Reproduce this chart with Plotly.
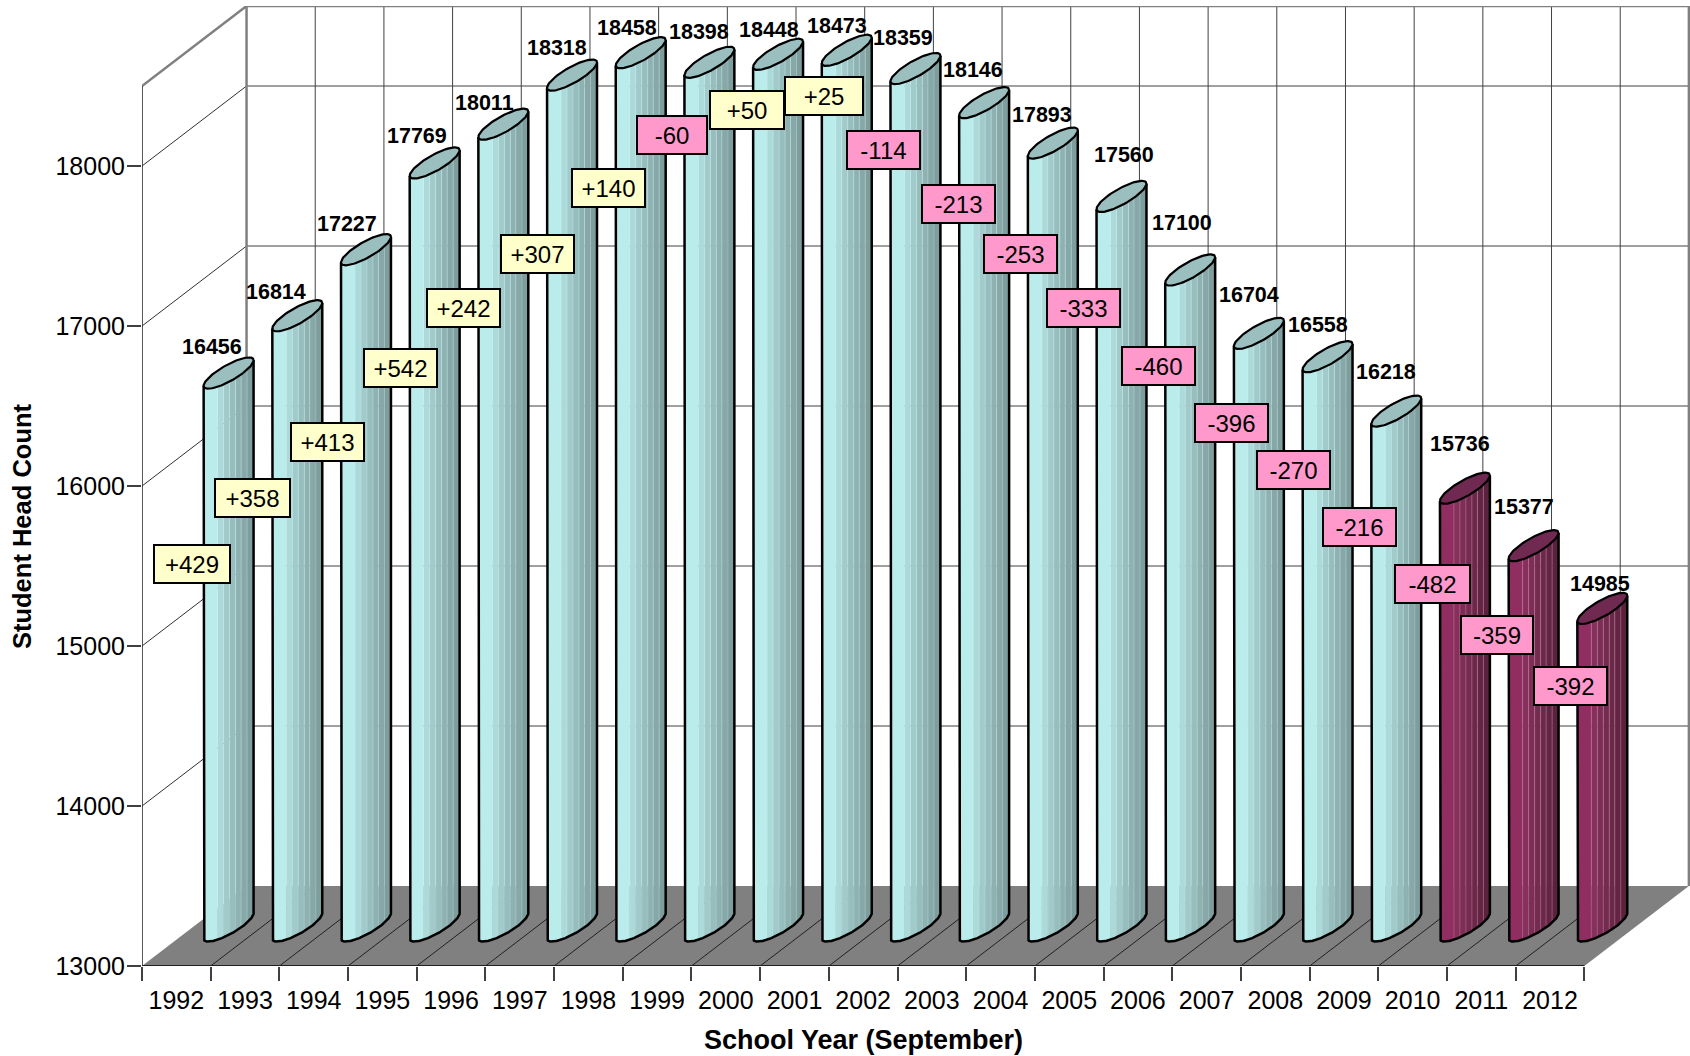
import numpy as np
import plotly.graph_objects as go

# ---- data -------------------------------------------------------------
years = [str(y) for y in range(1992, 2013)]
head_count = [16456, 16814, 17227, 17769, 18011, 18318, 18458, 18398, 18448, 18473, 18359,
              18146, 17893, 17560, 17100, 16704, 16558, 16218, 15736, 15377, 14985]
changes = ["+429", "+358", "+413", "+542", "+242", "+307", "+140", "-60", "+50", "+25", "-114",
           "-213", "-253", "-333", "-460", "-396", "-270", "-216", "-482", "-359", "-392"]
y_ticks = [13000, 14000, 15000, 16000, 17000, 18000]

# ---- hand placed callouts: pixel offsets from the top of each cylinder --
value_dx = [-17, -21, -19, -18, -19, -15, -14, -10, -9, -10, -12, -11, -11, 2, -8, -10, -10, -10, -5, -10, -2]
value_dy = [-26, -24, -26, -27, -21, -27, -25, -30, -24, -24, -31, -33, -28, -41, -47, -38, -32, -39, -44, -39, -24]
change_dx = [-37, -45, -38, -34, -40, -35, -32, -37, -31, -23, -32, -26, -32, -38, -32, -27, -34, -37, -32, -37, -32]
change_dy = [191, 182, 192, 205, 184, 179, 135, 73, 56, 46, 81, 101, 111, 112, 96, 90, 113, 116, 96, 89, 78]
change_w = [78, 77, 75, 75, 75, 75, 75, 72, 76, 80, 75, 75, 75, 75, 75, 75, 75, 75, 77, 74, 75]

# ---- styles / projection -------------------------------------------------
FONT = "Liberation Sans"
DX, DY = 1.522, 500.0          # how far one unit of floor depth shifts x and y
RX, RD = 0.21, 0.195           # cylinder radius across and into the floor
TOP = 18500
FLOOR = 13000
n = len(years)
STRIPES = [0, .28, .40, .52, .64, .75, .87, 1]
TEAL = ["#BAECEC", "#ABDADA", "#A1CBCB", "#97BEBE", "#8EB2B2", "#86A8A8", "#7E9D9D"]
PLUM = ["#902E62", "#87305B", "#7E2D55", "#752A4F", "#6C2849", "#632543", "#5A223D"]
TEAL_LINE, PLUM_LINE = "rgba(215,240,240,0.35)", "rgba(190,120,160,0.5)"
TEAL_TOP, PLUM_TOP = "#9ABFBE", "#702A52"
DARK_FROM = 18

# lower arc: from the leftmost point through the lowest point to the rightmost one
t_left = np.arctan2(-RD * DX, -RX)
arc_t = np.linspace(t_left, t_left + np.pi, 81)
arc_x = RX * np.cos(arc_t) + RD * DX * np.sin(arc_t)
arc_y = RD * DY * np.sin(arc_t)
half_w = arc_x.max()
ell_t = np.linspace(0, 2 * np.pi, 90)
ell_x = RX * np.cos(ell_t) + RD * DX * np.sin(ell_t)
ell_y = RD * DY * np.sin(ell_t)

centers = [i + 0.5 + DX / 2 for i in range(n)]
base = FLOOR + DY / 2


def segs(pairs):
    xs, ys = [], []
    for (x0, y0), (x1, y1) in pairs:
        xs += [x0, x1, None]
        ys += [y0, y1, None]
    return xs, ys


fig = go.Figure()


def line(pairs, color, width):
    xs, ys = segs(pairs)
    fig.add_trace(go.Scatter(x=xs, y=ys, mode="lines", line=dict(color=color, width=width),
                             hoverinfo="skip", showlegend=False))


# floor
fig.add_trace(go.Scatter(x=[0, n, n + DX, DX, 0], y=[FLOOR, FLOOR, FLOOR + DY, FLOOR + DY, FLOOR],
                         mode="lines", fill="toself", fillcolor="#808080", line=dict(width=0),
                         hoverinfo="skip", showlegend=False))
# walls grid
inner = [v for v in y_ticks if v > FLOOR]
line([((0, v), (DX, v + DY)) for v in inner], "#303030", 1)
line([((DX, v + DY), (n + DX, v + DY)) for v in inner], "#404040", 1)
line([((i + DX, FLOOR + DY), (i + DX, TOP + DY)) for i in range(1, n)], "#404040", 1)
line([((i, FLOOR), (i + DX, FLOOR + DY)) for i in range(1, n)], "#202020", 1)
line([((0, TOP), (DX, TOP + DY)), ((DX, TOP + DY), (n + DX, TOP + DY)),
      ((DX, FLOOR + DY), (DX, TOP + DY)), ((n + DX, FLOOR + DY), (n + DX, TOP + DY))], "#808080", 2.5)
line([((0, FLOOR), (0, TOP))], "#202020", 1.5)
line([((0, FLOOR), (n, FLOOR))], "#202020", 2)

# cylinder bodies, one trace per stripe colour
for palette, stripe_col, idx, cap in ((TEAL, TEAL_LINE, range(0, DARK_FROM), TEAL_TOP),
                                      (PLUM, PLUM_LINE, range(DARK_FROM, n), PLUM_TOP)):
    for k, col in enumerate(palette):
        xs, ys = [], []
        a, b = -half_w + 2 * half_w * STRIPES[k], -half_w + 2 * half_w * STRIPES[k + 1]
        off = np.linspace(a, b, 10)
        low = np.interp(off, arc_x, arc_y)
        for i in idx:
            cx = centers[i]
            xs += list(cx + off) + list(cx + off[::-1]) + [cx + off[0], None]
            ys += list(base + low) + list(head_count[i] + DY / 2 + low[::-1]) + [base + low[0], None]
        fig.add_trace(go.Scatter(x=xs, y=ys, mode="lines", fill="toself", fillcolor=col,
                                 line=dict(width=0), hoverinfo="skip", showlegend=False))
    pairs = []
    for k in range(1, len(STRIPES) - 1):
        o = -half_w + 2 * half_w * STRIPES[k]
        l = float(np.interp(o, arc_x, arc_y))
        for i in idx:
            pairs.append(((centers[i] + o, base + l), (centers[i] + o, head_count[i] + DY / 2 + l)))
    line(pairs, stripe_col, 1)

    # outline and cap
    ox, oy, cx_, cy_ = [], [], [], []
    for i in idx:
        c, v = centers[i], head_count[i] + DY / 2
        ox += [c + arc_x[0]] + list(c + arc_x) + [c + arc_x[-1], None]
        oy += [v + arc_y[0]] + list(base + arc_y) + [v + arc_y[-1], None]
        cx_ += list(c + ell_x) + [None]
        cy_ += list(v + ell_y) + [None]
    fig.add_trace(go.Scatter(x=ox, y=oy, mode="lines", line=dict(color="#000000", width=2.5),
                             hoverinfo="skip", showlegend=False))
    fig.add_trace(go.Scatter(x=cx_, y=cy_, mode="lines", fill="toself", fillcolor=cap,
                             line=dict(color="#000000", width=2.2), hoverinfo="skip", showlegend=False))

ann = []
for i in range(n):
    v = head_count[i] + DY / 2
    ann.append(dict(x=centers[i], y=v, xref="x", yref="y", xshift=value_dx[i], yshift=-value_dy[i],
                    text=f"<b>{head_count[i]}</b>", showarrow=False, xanchor="center", yanchor="middle",
                    font=dict(family=FONT, size=21.5, color="#000000")))
for i in range(n):
    v = head_count[i] + DY / 2
    ann.append(dict(x=centers[i], y=v, xref="x", yref="y", xshift=change_dx[i], yshift=-change_dy[i],
                    text=changes[i], showarrow=False, xanchor="center", yanchor="middle",
                    width=change_w[i] - 4, height=36, borderwidth=2, borderpad=0, bordercolor="#000000",
                    bgcolor="#FFFFCC" if changes[i].startswith("+") else "#FF99CC",
                    font=dict(family=FONT, size=24, color="#000000")))
ann.append(dict(x=n / 2, y=-0.077, xref="x", yref="paper", yanchor="middle", showarrow=False,
                text="<b>School Year (September)</b>", font=dict(family=FONT, size=27, color="#000000")))
ann.append(dict(x=-0.0775, xref="paper", y=(FLOOR + TOP) / 2, yref="y", xanchor="center", showarrow=False,
                text="<b>Student Head Count</b>", textangle=-90, font=dict(family=FONT, size=25.5, color="#000000")))

fig.update_layout(
    width=1690, height=1056, margin=dict(l=142, r=0, t=6, b=90, pad=0),
    plot_bgcolor="#FFFFFF", paper_bgcolor="#FFFFFF", showlegend=False, annotations=ann,
    xaxis=dict(range=[0, 22.538], tickmode="array", tickvals=[i + 0.5 for i in range(n)], ticktext=years,
               ticks="outside", ticklen=12, tickcolor="rgba(0,0,0,0)", showgrid=False, zeroline=False,
               showline=False, tickfont=dict(family=FONT, size=25, color="#000000"),
               minor=dict(tickmode="array", tickvals=list(range(n + 1)), ticks="outside", ticklen=14,
                          tickcolor="#404040", tickwidth=1.5, showgrid=False)),
    yaxis=dict(range=[13000, 19000], tickmode="array", tickvals=y_ticks, ticktext=[str(v) for v in y_ticks],
               ticks="outside", ticklen=14, tickcolor="#404040", tickwidth=1.5, showgrid=False, zeroline=False,
               showline=False, ticklabelstandoff=-3, tickfont=dict(family=FONT, size=25, color="#000000")),
)
fig.write_html("out.html", config={"displayModeBar": False},
               post_script="document.body.style.margin='0';document.documentElement.style.overflow='hidden';")
